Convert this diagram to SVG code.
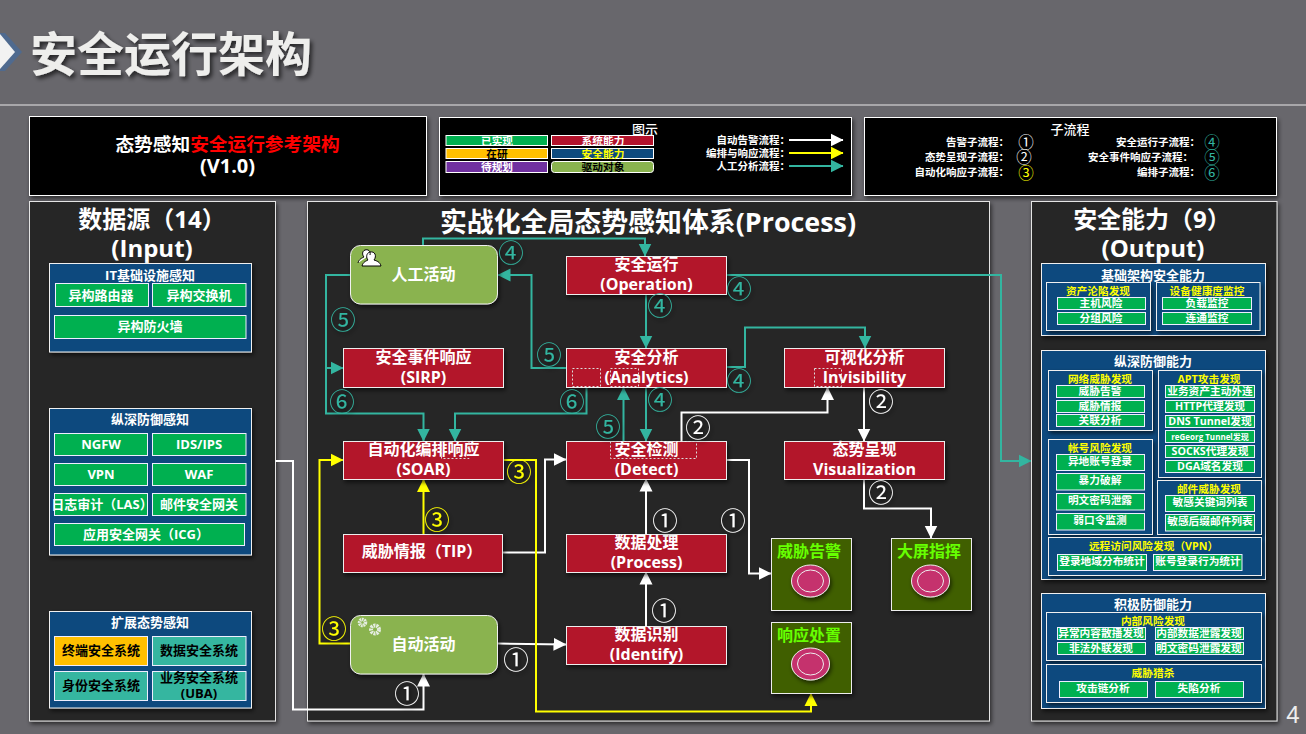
<svg xmlns="http://www.w3.org/2000/svg" width="1306" height="734" viewBox="0 0 1306 734">
<style>
text{font-family:"Open Sans","Noto Sans CJK SC",sans-serif;font-weight:700;fill:#fff;text-anchor:middle}
.panel{fill:#262626;stroke:#e4e4e4;stroke-width:1;filter:url(#sh)}
.blk{fill:#000;stroke:#fff;stroke-width:1;filter:url(#sh)}
.blue{fill:#0d4a7e;stroke:#f0f0f0;stroke-width:1;filter:url(#sh)}
.g{fill:#00b050;stroke:#eef;stroke-width:1}
.t{fill:#35b6a0;stroke:#eef;stroke-width:1}
.o{fill:#ffc000;stroke:#eef;stroke-width:1}
.red{fill:#b3122b;stroke:#eee;stroke-width:1;filter:url(#sh)}
.act{fill:#8ab34f;stroke:#f0f0f0;stroke-width:1;filter:url(#sh)}
.sq{fill:#3f5f00;stroke:#eee;stroke-width:1;filter:url(#sh)}
.dash{fill:none;stroke:#ddd;stroke-width:1;stroke-dasharray:2 2}
.pk{fill:#c5316d;stroke:#eee;stroke-width:1;filter:url(#sh)}
.pi{fill:none;stroke:#eee;stroke-width:1}
.ln{fill:none;stroke-width:2}
.lw{stroke:#fff;marker-end:url(#aw)}
.ly{stroke:#ff0;marker-end:url(#ay)}
.lt{stroke:#33b5a0;marker-end:url(#at)}
.f11{font-size:10.7px}.f13{font-size:13px}.f16{font-size:16px}.f24{font-size:24px}
.y{fill:#ff0}.k{fill:#000}.lime{fill:#66ff00;font-size:16px}
.r{text-anchor:end;font-size:10.5px}
.n{font-size:25.5px;font-weight:400;filter:url(#sh)}
.n2{font-size:15.5px;font-weight:400}
.nt{fill:#33b5a0}.ny{fill:#ff0}
</style>
<defs>
<filter id="sh" x="-20%" y="-20%" width="150%" height="150%"><feDropShadow dx="1.5" dy="2.5" stdDeviation="2" flood-color="#000" flood-opacity=".6"/></filter>
<filter id="ts" x="-10%" y="-20%" width="120%" height="150%"><feDropShadow dx="2.5" dy="3" stdDeviation="2.2" flood-color="#000" flood-opacity=".65"/></filter>
<marker id="aw" markerUnits="userSpaceOnUse" markerWidth="14" markerHeight="14" refX="12.5" refY="7" orient="auto"><path d="M0 .5L13 7L0 13.5Z" fill="#fff"/></marker>
<marker id="ay" markerUnits="userSpaceOnUse" markerWidth="14" markerHeight="14" refX="12.5" refY="7" orient="auto"><path d="M0 .5L13 7L0 13.5Z" fill="#ff0"/></marker>
<marker id="at" markerUnits="userSpaceOnUse" markerWidth="14" markerHeight="14" refX="12.5" refY="7" orient="auto"><path d="M0 .5L13 7L0 13.5Z" fill="#33b5a0"/></marker>
</defs>
<rect width="1306" height="734" fill="#68676c"/>
<g id="header">
<path d="M5 33L22 52L5 71L0 71L0 33Z" fill="#4f6a8f"/>
<path d="M0 34L15 52L0 69Z" fill="#f2f2f2"/>
<text x="171" y="71" style="font-size:47px;fill:#eeeeec;filter:url(#ts)">安全运行架构</text>
<line x1="0" y1="105" x2="1306" y2="105" stroke="#e8e8e8"/>
</g>
<g id="version">
<rect class="blk" x="29.5" y="116.5" width="397" height="79"/>
<text x="227.500" y="151" style="font-size:18.700px">态势感知<tspan fill="#f00">安全运行参考架构</tspan></text>
<text x="227.500" y="173" style="font-size:20px">(V1.0)</text>
</g>
<g id="legend">
<rect class="blk" x="439.500" y="117.500" width="412" height="78"/>
<text x="645" y="134" class="f13" style="font-weight:500">图示</text>
<rect x="446" y="135.500" width="101.500" height="10" fill="#00b050" stroke="#fff"/><text x="497" y="144.500" class="f11">已实现</text>
<rect x="551.500" y="135.500" width="102" height="10" fill="#b3122b" stroke="#fff"/><text x="603" y="144.500" class="f11">系统能力</text>
<rect x="446" y="148.500" width="101.500" height="10" fill="#ffc000" stroke="#fff"/><text x="497" y="157.500" class="f11 k">在研</text>
<rect x="551.500" y="148.500" width="102" height="10" fill="#0d4a7e" stroke="#fff"/><text x="603" y="157.500" class="f11 y">安全能力</text>
<rect x="446" y="161.500" width="101.500" height="11" fill="#7030a0" stroke="#fff"/><text x="497" y="170.500" class="f11">待规划</text>
<rect x="551.500" y="161.500" width="102" height="11" rx="3" fill="#8ab34f" stroke="#fff"/><text x="603" y="170.500" class="f11 k">驱动对象</text>
<text x="790" y="143.500" class="r">自动告警流程：</text>
<text x="790" y="156.500" class="r">编排与响应流程：</text>
<text x="790" y="170" class="r">人工分析流程：</text>
<path class="ln lw" d="M789 140H843"/><path class="ln ly" d="M789 153H843"/><path class="ln lt" d="M789 166H843"/>
</g>
<g id="subflows">
<rect class="blk" x="864.500" y="117.500" width="412" height="78"/>
<text x="1070" y="134" class="f13" style="font-weight:500">子流程</text>
<text x="1009" y="146" class="r">告警子流程：</text>
<text x="1009" y="161" class="r">态势呈现子流程：</text>
<text x="1009" y="176" class="r">自动化响应子流程：</text>
<text x="1200" y="146" class="r">安全运行子流程：</text>
<text x="1193" y="161" class="r">安全事件响应子流程：</text>
<text x="1200" y="176" class="r">编排子流程：</text>
<text x="1026" y="148" class="n2">①</text><text x="1024" y="163" class="n2">②</text><text x="1026" y="179" class="n2 ny">③</text>
<text x="1212" y="148" class="n2 nt">④</text><text x="1212" y="163" class="n2 nt">⑤</text><text x="1212" y="179" class="n2 nt">⑥</text>
</g>

<g id="input-panel">
<rect class="panel" x="29.500" y="201.500" width="246" height="519.500"/>
<text x="152" y="228" class="f24">数据源（14）</text>
<text x="152" y="257" class="f24">(Input)</text>
<rect class="blue" x="49.500" y="263.500" width="202" height="88.500"/>
<text x="150" y="280" class="f13">IT基础设施感知</text>
<rect class="g" x="55.500" y="283.500" width="93" height="23"/><text x="101" y="300" class="f13">异构路由器</text>
<rect class="g" x="152.500" y="283.500" width="93.500" height="23"/><text x="199" y="300" class="f13">异构交换机</text>
<rect class="g" x="54.500" y="315.500" width="191.500" height="23"/><text x="150" y="331" class="f13">异构防火墙</text>
<rect class="blue" x="49.500" y="408.500" width="202" height="146.500"/>
<text x="150" y="424" class="f13">纵深防御感知</text>
<rect class="g" x="54.500" y="433.500" width="93" height="22"/><text x="101" y="449" class="f13">NGFW</text>
<rect class="g" x="152.500" y="433.500" width="93.500" height="22"/><text x="199" y="449" class="f13">IDS/IPS</text>
<rect class="g" x="54.500" y="463.500" width="93" height="22"/><text x="101" y="479" class="f13">VPN</text>
<rect class="g" x="152.500" y="463.500" width="93.500" height="22"/><text x="199" y="479" class="f13">WAF</text>
<rect class="g" x="54.500" y="493.500" width="93" height="22"/><text x="102" y="509" class="f13">日志审计（LAS）</text>
<rect class="g" x="152.500" y="493.500" width="93.500" height="22"/><text x="199" y="509" class="f13">邮件安全网关</text>
<rect class="g" x="54.500" y="523.500" width="190" height="22"/><text x="146" y="539" class="f13">应用安全网关（ICG）</text>
<rect class="blue" x="49.500" y="611.500" width="202" height="96.500"/>
<text x="150" y="627" class="f13">扩展态势感知</text>
<rect class="o" x="54.500" y="636.500" width="93" height="29"/><text x="101" y="655" class="f13 k">终端安全系统</text>
<rect class="t" x="152.500" y="636.500" width="93.500" height="29"/><text x="199" y="655" class="f13 k">数据安全系统</text>
<rect class="t" x="54.500" y="671.500" width="93" height="29"/><text x="101" y="690" class="f13 k">身份安全系统</text>
<rect class="t" x="152.500" y="671.500" width="93.500" height="29"/><text x="199" y="682" class="f13 k">业务安全系统</text><text x="199" y="698" class="f13 k">(UBA)</text>
</g>

<g id="process-panel">
<rect class="panel" x="307.500" y="201.500" width="682" height="519.500"/>
<text x="648" y="232" style="font-size:26.900px">实战化全局态势感知体系(Process)</text>
</g>

<g id="connectors">
<path class="ln lt" d="M423 245V238.500H645V256"/>
<path class="ln lt" d="M726.500 275H1001V461H1031"/>
<path class="ln lt" d="M646 294.500V348"/>
<path class="ln lt" d="M566 368H531.500V275H498"/>
<path class="ln lt" d="M350 275H326V413.500H423.500V441"/>
<path class="ln lt" d="M326 368H343"/>
<path class="ln lt" d="M586.500 387.500V413.500H455V441"/>
<path class="ln lt" d="M623.500 441V387.500"/>
<path class="ln lt" d="M646 387.500V441"/>
<path class="ln lt" d="M726.500 367H745V327.500H865V348"/>
<path class="ln lw" d="M681.500 441V412.500H827.500V387.500"/>
<path class="ln lw" d="M864 387.500V441"/>
<path class="ln lw" d="M864 479V508.500H931V538"/>
<path class="ln lw" d="M726.500 460H749V573.500H771"/>
<path class="ln lw" d="M646 534V479"/>
<path class="ln lw" d="M646 626V572"/>
<path class="ln lw" d="M503 552.500H545V459.500H566"/>
<path class="ln lw" d="M498 643.500L566 644.500"/>
<path class="ln lw" d="M275.500 461H293V709.500H423.500V674"/>
<path class="ln ly" d="M350 643.500H319.500V460H343"/>
<path class="ln ly" d="M423.500 534V479.500"/>
<path class="ln ly" d="M503.500 460H536V711.500H811V693.500"/>
</g>

<g id="node-human">
<rect class="act" x="350.500" y="245.500" width="147" height="58.500" rx="10"/>
<path d="M358 263c1-4 4-5 6-6c-2-2-2-6 1-7c3-1 6 1 5 5M362 266c1-4 4-5 6-6c-2-2-2-7 2-8c5-1 7 4 4 8c3 1 6 2 7 6Z" fill="#fff" stroke="#000" stroke-width="1"/>
<text x="423.500" y="280" class="f16">人工活动</text>
</g>
<g id="node-auto">
<rect class="act" x="350.500" y="615.500" width="147" height="58.500" rx="10"/>
<circle cx="362.500" cy="622.500" r="3" fill="none" stroke="#e4ece0" stroke-width="3.500" stroke-dasharray="1.600 .6"/>
<circle cx="375" cy="629.500" r="4" fill="none" stroke="#e4ece0" stroke-width="4" stroke-dasharray="2 .8"/>
<text x="423.500" y="650" class="f16">自动活动</text>
</g>
<g id="node-operation"><rect class="red" x="566.500" y="256.500" width="160" height="38"/><text x="646.500" y="270" class="f16">安全运行</text><text x="646.500" y="290" class="f16">(Operation)</text></g>
<g id="node-analytics"><rect class="red" x="566.500" y="348.500" width="160" height="39"/><text x="646.500" y="363" class="f16">安全分析</text><text x="646.500" y="383" class="f16">(Analytics)</text><rect class="dash" x="572.500" y="368.500" width="28" height="18"/><rect class="dash" x="610.500" y="368.500" width="28" height="18"/></g>
<g id="node-visual"><rect class="red" x="784.500" y="348.500" width="160" height="39"/><text x="864.500" y="363" class="f16">可视化分析</text><text x="864.500" y="383" class="f16">Invisibility</text><rect class="dash" x="814.500" y="368.500" width="27" height="18"/></g>
<g id="node-sirp"><rect class="red" x="343.500" y="348.500" width="160" height="39"/><text x="423.500" y="363" class="f16">安全事件响应</text><text x="423.500" y="383" class="f16">(SIRP)</text></g>
<g id="node-soar"><rect class="red" x="343.500" y="441.500" width="160" height="38"/><text x="423.500" y="455" class="f16">自动化编排响应</text><text x="423.500" y="475" class="f16">(SOAR)</text><rect class="dash" x="441.500" y="441.500" width="27.500" height="17"/></g>
<g id="node-detect"><rect class="red" x="566.500" y="441.500" width="160" height="38"/><text x="646.500" y="455" class="f16">安全检测</text><text x="646.500" y="475" class="f16">(Detect)</text><rect class="dash" x="610.500" y="441.500" width="86" height="17"/></g>
<g id="node-visualization"><rect class="red" x="784.500" y="441.500" width="160" height="38"/><text x="864.500" y="455" class="f16">态势呈现</text><text x="864.500" y="475" class="f16">Visualization</text></g>
<g id="node-tip"><rect class="red" x="343.500" y="534.500" width="159" height="38"/><text x="422" y="557" class="f16">威胁情报（TIP）</text></g>
<g id="node-process"><rect class="red" x="566.500" y="534.500" width="160" height="38"/><text x="646.500" y="548" class="f16">数据处理</text><text x="646.500" y="568" class="f16">(Process)</text></g>
<g id="node-identify"><rect class="red" x="566.500" y="626.500" width="160" height="38"/><text x="646.500" y="640" class="f16">数据识别</text><text x="646.500" y="660" class="f16">(Identify)</text></g>
<g id="node-alert"><rect class="sq" x="771.500" y="538.500" width="80" height="72"/><text x="809" y="557" class="lime">威胁告警</text><ellipse class="pk" cx="810.500" cy="581" rx="19" ry="16"/><ellipse class="pi" cx="810.500" cy="581" rx="13" ry="11"/></g>
<g id="node-screen"><rect class="sq" x="891.500" y="538.500" width="80" height="72"/><text x="929" y="557" class="lime">大屏指挥</text><ellipse class="pk" cx="930.500" cy="581" rx="19" ry="16"/><ellipse class="pi" cx="930.500" cy="581" rx="13" ry="11"/></g>
<g id="node-response"><rect class="sq" x="771.500" y="622.500" width="80" height="71"/><text x="809" y="641" class="lime">响应处置</text><ellipse class="pk" cx="810.500" cy="664" rx="19" ry="16"/><ellipse class="pi" cx="810.500" cy="664" rx="13" ry="11"/></g>

<g id="flow-numbers">
<text x="511" y="262" class="n nt">④</text>
<text x="343" y="329" class="n nt">⑤</text>
<text x="549" y="364" class="n nt">⑤</text>
<text x="342" y="411" class="n nt">⑥</text>
<text x="572" y="411" class="n nt">⑥</text>
<text x="608" y="436" class="n nt">⑤</text>
<text x="739" y="298" class="n nt">④</text>
<text x="660" y="315" class="n nt">④</text>
<text x="739" y="390" class="n nt">④</text>
<text x="660" y="409" class="n nt">④</text>
<text x="881" y="411" class="n">②</text>
<text x="698" y="437" class="n">②</text>
<text x="881" y="502" class="n">②</text>
<text x="665" y="530" class="n">①</text>
<text x="733" y="530" class="n">①</text>
<text x="664" y="620" class="n">①</text>
<text x="516" y="669" class="n">①</text>
<text x="407" y="703" class="n">①</text>
<text x="519" y="481" class="n ny">③</text>
<text x="437" y="529" class="n ny">③</text>
<text x="334" y="638" class="n ny">③</text>
</g>

<g id="output-panel">
<rect class="panel" x="1031.500" y="201.500" width="245.500" height="519.500"/>
<text x="1152" y="228" class="f24">安全能力（9）</text>
<text x="1153" y="257" class="f24">(Output)</text>
<rect class="blue" x="1041.500" y="263.500" width="224" height="72"/>
<text x="1153" y="280" class="f13">基础架构安全能力</text>
<rect class="blue" x="1046.500" y="282.500" width="104" height="48"/>
<text x="1098" y="295" class="f11 y">资产沦陷发现</text>
<rect class="g" x="1057.500" y="297.500" width="88" height="12"/><text x="1101" y="306.500" class="f11">主机风险</text>
<rect class="g" x="1057.500" y="312.500" width="88" height="12"/><text x="1101" y="321.500" class="f11">分组风险</text>
<rect class="blue" x="1156.500" y="282.500" width="103.500" height="48"/>
<text x="1207" y="295" class="f11 y">设备健康度监控</text>
<rect class="g" x="1162.500" y="297.500" width="89" height="12"/><text x="1207" y="306.500" class="f11">负载监控</text>
<rect class="g" x="1162.500" y="312.500" width="89" height="12"/><text x="1207" y="321.500" class="f11">连通监控</text>

<rect class="blue" x="1041.500" y="350.500" width="224" height="229"/>
<text x="1153" y="366" class="f13">纵深防御能力</text>
<rect class="blue" x="1048.500" y="370.500" width="104" height="60"/>
<text x="1100" y="383" class="f11 y">网络威胁发现</text>
<rect class="g" x="1056.500" y="385.500" width="88" height="12"/><text x="1100" y="394.500" class="f11">威胁告警</text>
<rect class="g" x="1056.500" y="400.500" width="88" height="12"/><text x="1100" y="409.500" class="f11">威胁情报</text>
<rect class="g" x="1056.500" y="414.500" width="88" height="12"/><text x="1100" y="423.500" class="f11">关联分析</text>
<rect class="blue" x="1158.500" y="370.500" width="103" height="107"/>
<text x="1209" y="383" class="f11 y">APT攻击发现</text>
<rect class="g" x="1165.500" y="385.500" width="89" height="12"/><text x="1210" y="394.500" class="f11">业务资产主动外连</text>
<rect class="g" x="1165.500" y="400.500" width="89" height="12"/><text x="1210" y="409.500" class="f11">HTTP代理发现</text>
<rect class="g" x="1165.500" y="415.500" width="89" height="12"/><text x="1210" y="424.500" class="f11">DNS Tunnel发现</text>
<rect class="g" x="1165.500" y="430.500" width="89" height="12"/><text x="1210" y="439.500" style="font-size:8px">reGeorg Tunnel发现</text>
<rect class="g" x="1165.500" y="445.500" width="89" height="12"/><text x="1210" y="454.500" class="f11">SOCKS代理发现</text>
<rect class="g" x="1165.500" y="460.500" width="89" height="12"/><text x="1210" y="469.500" class="f11">DGA域名发现</text>
<rect class="blue" x="1048.500" y="439.500" width="104" height="95"/>
<text x="1100" y="452" class="f11 y">帐号风险发现</text>
<rect class="g" x="1056.500" y="454.500" width="88" height="16"/><text x="1100" y="465" class="f11">异地账号登录</text>
<rect class="g" x="1056.500" y="473.500" width="88" height="16.500"/><text x="1100" y="484" class="f11">暴力破解</text>
<rect class="g" x="1056.500" y="493.500" width="88" height="16.500"/><text x="1100" y="504" class="f11">明文密码泄露</text>
<rect class="g" x="1056.500" y="513.500" width="88" height="16.500"/><text x="1100" y="524" class="f11">弱口令监测</text>
<rect class="blue" x="1157.500" y="480.500" width="104" height="54"/>
<text x="1209" y="493" class="f11 y">邮件威胁发现</text>
<rect class="g" x="1165.500" y="495.500" width="89" height="16"/><text x="1210" y="506" class="f11">敏感关键词列表</text>
<rect class="g" x="1165.500" y="514.500" width="89" height="16.500"/><text x="1210" y="525" class="f11">敏感后缀邮件列表</text>
<rect class="blue" x="1048.500" y="537.500" width="213" height="38"/>
<text x="1153.500" y="550" class="f11 y">远程访问风险发现（VPN）</text>
<rect class="g" x="1057.500" y="554.500" width="89" height="16"/><text x="1102" y="565" class="f11">登录地域分布统计</text>
<rect class="g" x="1153.500" y="554.500" width="88.500" height="16"/><text x="1198" y="565" class="f11">账号登录行为统计</text>

<rect class="blue" x="1041.500" y="593.500" width="224" height="115"/>
<text x="1153" y="609" class="f13">积极防御能力</text>
<rect class="blue" x="1046.500" y="612.500" width="215" height="48"/>
<text x="1153" y="625" class="f11 y">内部风险发现</text>
<rect class="g" x="1057.500" y="627.500" width="88" height="12"/><text x="1101" y="636.500" class="f11">异常内容散播发现</text>
<rect class="g" x="1155.500" y="627.500" width="88" height="12"/><text x="1199" y="636.500" class="f11">内部数据泄露发现</text>
<rect class="g" x="1057.500" y="642.500" width="88" height="12"/><text x="1101" y="651.500" class="f11">非法外联发现</text>
<rect class="g" x="1155.500" y="642.500" width="88" height="12"/><text x="1199" y="651.500" class="f11">明文密码泄露发现</text>
<rect class="blue" x="1046.500" y="664.500" width="215" height="38"/>
<text x="1153" y="677" class="f11 y">威胁猎杀</text>
<rect class="g" x="1059.500" y="681.500" width="88" height="16"/><text x="1103" y="692" class="f11">攻击链分析</text>
<rect class="g" x="1155.500" y="681.500" width="88" height="16"/><text x="1199" y="692" class="f11">失陷分析</text>
</g>
<text x="1293" y="723" style="font-family:'Liberation Sans',sans-serif;font-size:24px;font-weight:400;fill:#eee">4</text>
</svg>
